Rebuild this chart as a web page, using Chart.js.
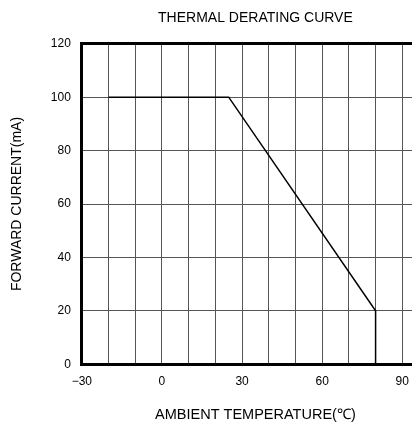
<!DOCTYPE html>
<html>
<head>
<meta charset="utf-8">
<script src="https://cdn.jsdelivr.net/npm/chart.js@4/dist/chart.umd.min.js"></script>
<style>
  html, body { margin: 0; padding: 0; background: #fff; overflow: hidden; }
  #wrap { width: 439px; height: 424px; }
</style>
</head>
<body>
<div id="wrap"><canvas id="chart"></canvas></div>
<script>
// derating curve: ambient temperature (°C) vs forward current (mA)
var tempPoints = [-20, 25, 80, 80];
var currentPoints = [100, 100, 20, 0];
var xTicks = [-30, -20, -10, 0, 10, 20, 30, 40, 50, 60, 70, 80, 90, 100];
var yTicks = [0, 20, 40, 60, 80, 100, 120];

var FONT = "'Liberation Sans', Arial, sans-serif";

var points = tempPoints.map(function (t, i) { return { x: t, y: currentPoints[i] }; });

var ctx = document.getElementById('chart').getContext('2d');
var chart = new Chart(ctx, {
    type: 'line',
    data: {
        datasets: [{
            data: points,
            borderColor: '#000',
            borderWidth: 1.5,
            pointRadius: 0,
            tension: 0,
            fill: false
        }]
    },
    options: {
        responsive: true,
        maintainAspectRatio: false,
        animation: false,
        layout: { padding: { left: 9, right: 2, top: 0, bottom: 0 } },
        plugins: {
            legend: { display: false },
            tooltip: { enabled: false }
        },
        scales: {
            // top axis only carries the chart title, centred over the plot like the original
            top: {
                type: 'linear',
                position: 'top',
                min: xTicks[0],
                max: xTicks[xTicks.length - 1],
                ticks: { display: false },
                grid: { display: false, drawTicks: false },
                border: { display: false },
                title: {
                    display: true,
                    text: 'THERMAL DERATING CURVE',
                    color: '#000',
                    font: { family: FONT, size: 14 },
                    padding: { top: 10, bottom: 17 }
                }
            },
            x: {
                type: 'linear',
                min: xTicks[0],
                max: xTicks[xTicks.length - 1],
                afterBuildTicks: function (scale) {
                    scale.ticks = xTicks.map(function (v) { return { value: v }; });
                },
                ticks: {
                    autoSkip: false,
                    maxRotation: 0,
                    color: '#000',
                    padding: 10,
                    font: { family: FONT, size: 12 },
                    callback: function (v) {
                        if (v % 30 !== 0) return '';
                        return v < 0 ? '\u2212' + Math.abs(v) : String(v);
                    }
                },
                grid: { color: '#555', lineWidth: 1, drawTicks: false },
                border: { display: true, color: '#000', width: 3 },
                title: {
                    display: true,
                    text: 'AMBIENT TEMPERATURE(\u2103)',
                    color: '#000',
                    font: { family: FONT, size: 14.5 },
                    padding: { top: 8, bottom: 0 }
                }
            },
            y: {
                type: 'linear',
                min: yTicks[0],
                max: yTicks[yTicks.length - 1],
                afterBuildTicks: function (scale) {
                    scale.ticks = yTicks.map(function (v) { return { value: v }; });
                },
                ticks: {
                    color: '#000',
                    padding: 11,
                    font: { family: FONT, size: 12 }
                },
                grid: {
                    color: function (c) { return c.tick && c.tick.value === 120 ? '#000' : '#555'; },
                    lineWidth: function (c) { return c.tick && c.tick.value === 120 ? 3 : 1; },
                    drawTicks: false
                },
                border: { display: true, color: '#000', width: 3 },
                title: {
                    display: true,
                    text: 'FORWARD CURRENT(mA)',
                    color: '#000',
                    font: { family: FONT, size: 14 },
                    padding: { top: 0, bottom: 14 }
                }
            }
        }
    }
});
</script>
</body>
</html>
